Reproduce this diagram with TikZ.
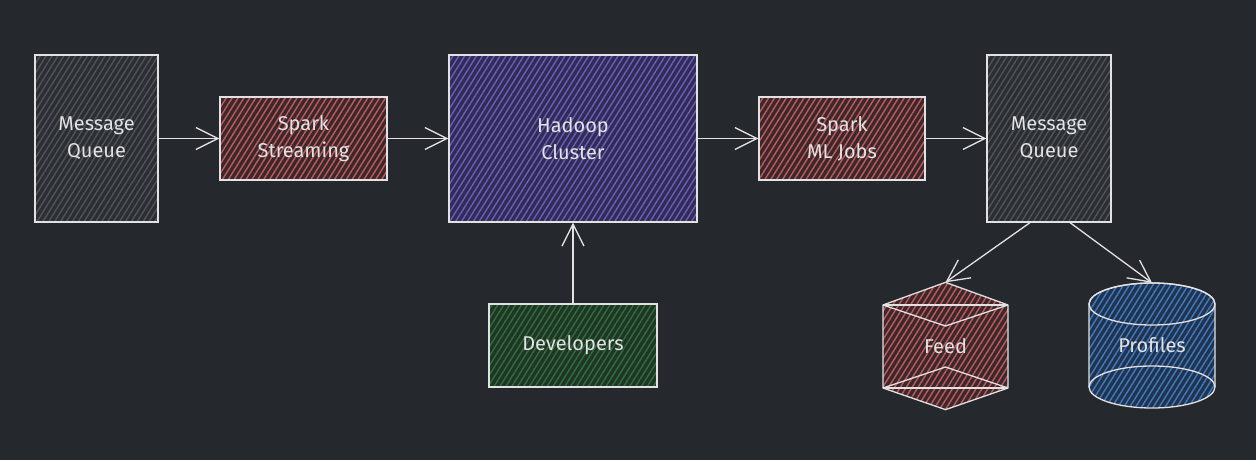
\documentclass[tikz,border=0pt]{standalone}
\usepackage{fontspec}
\setmainfont{Fira Sans}
\usetikzlibrary{arrows.meta}
\usetikzlibrary{patterns.meta}

\definecolor{bgcol}{HTML}{25282C}
\definecolor{inkcol}{HTML}{E2E2E2}
\definecolor{graybase}{HTML}{2B2E32}
\definecolor{grayhatch}{HTML}{505357}
\definecolor{redbase}{HTML}{3A292C}
\definecolor{redhatch}{HTML}{C25A5C}
\definecolor{purplebase}{HTML}{302C52}
\definecolor{purplehatch}{HTML}{6C5CC0}
\definecolor{greenbase}{HTML}{213428}
\definecolor{greenhatch}{HTML}{2F7038}
\definecolor{bluebase}{HTML}{22344C}
\definecolor{bluehatch}{HTML}{3F7AC4}

\tikzset{
 box/.style={draw=inkcol, line width=1.3pt, text=inkcol, align=center,
  font=\fontsize{20}{27}\selectfont},
 hatched/.style 2 args={preaction={fill=#1}, pattern={Lines[angle=58,distance=5pt,line width=1.4pt]}, pattern color=#2},
 graybox/.style={box, hatched={graybase}{grayhatch}},
 redbox/.style={box, hatched={redbase}{redhatch}},
 purplebox/.style={box, hatched={purplebase}{purplehatch}},
 greenbox/.style={box, hatched={greenbase}{greenhatch}},
 flow/.style={draw=inkcol, line width=1.3pt, -{Straight Barb[length=22pt,width=22pt,line width=1.3pt]}},
}

\begin{document}
\begin{tikzpicture}[x=1pt, y=-1pt]
\fill[bgcol] (0,0) rectangle (1256,460);
\useasboundingbox (0,0) rectangle (1256,460);

% top row
\node[graybox, minimum width=123pt, minimum height=167pt] (mqin) at (96.5,138.5) {Message\\Queue};
\node[redbox, minimum width=167pt, minimum height=83pt] (stream) at (303.5,138.5) {Spark\\Streaming};
\node[purplebox, minimum width=248pt, minimum height=167pt] (hadoop) at (573,138.5) {Hadoop\\Cluster};
\node[redbox, minimum width=166pt, minimum height=83pt] (mljobs) at (842,138.5) {Spark\\ML Jobs};
\node[graybox, minimum width=124pt, minimum height=167pt] (mqout) at (1049,138.5) {Message\\Queue};

% bottom row
\node[greenbox, minimum width=168pt, minimum height=83pt] (devs) at (573,345.5) {Developers};
\node[box, draw=none, minimum width=125pt, minimum height=126pt] (feed) at (945.5,346) {};
\node[box, draw=none, minimum width=126pt, minimum height=124pt] (profiles) at (1152,345.5) {};

% feed box shape
\begin{scope}[draw=inkcol, line width=1.3pt, line join=round]
\path[draw, hatched={redbase}{redhatch}] (feed.north) -- (883,305) -- (883,388) -- (feed.south) -- (1008,388) -- (1008,305) -- cycle;
\draw (883,305) -- (1008,305);
\draw (883,305) -- (945.5,326) -- (1008,305);
\draw (883,388) -- (1008,388);
\draw (883,388) -- (945.5,367) -- (1008,388);
\end{scope}

% profiles cylinder
\begin{scope}[draw=inkcol, line width=1.3pt]
\path[draw, hatched={bluebase}{bluehatch}] (1089,304) arc[start angle=180, end angle=0, x radius=63, y radius=-21] -- (1215,387) arc[start angle=0, end angle=-180, x radius=63, y radius=-21] -- cycle;
\draw (1152,304) ellipse[x radius=63, y radius=21];
\draw (1089,387) arc[start angle=180, end angle=0, x radius=63, y radius=-21];
\end{scope}

\node[box, draw=none] (feedtxt) at (feed.center) {Feed};
\node[box, draw=none] (proftxt) at (profiles.center) {Profiles};

% connectors
\draw[flow] (mqin) -- (stream);
\draw[flow] (stream) -- (hadoop);
\draw[flow] (hadoop) -- (mljobs);
\draw[flow] (mljobs) -- (mqout);
\draw[flow] (devs) -- (hadoop);
\draw[flow] ([xshift=-19pt]mqout.south) -- (feed.north);
\draw[flow] ([xshift=21pt]mqout.south) -- (profiles.north);
\end{tikzpicture}
\end{document}
